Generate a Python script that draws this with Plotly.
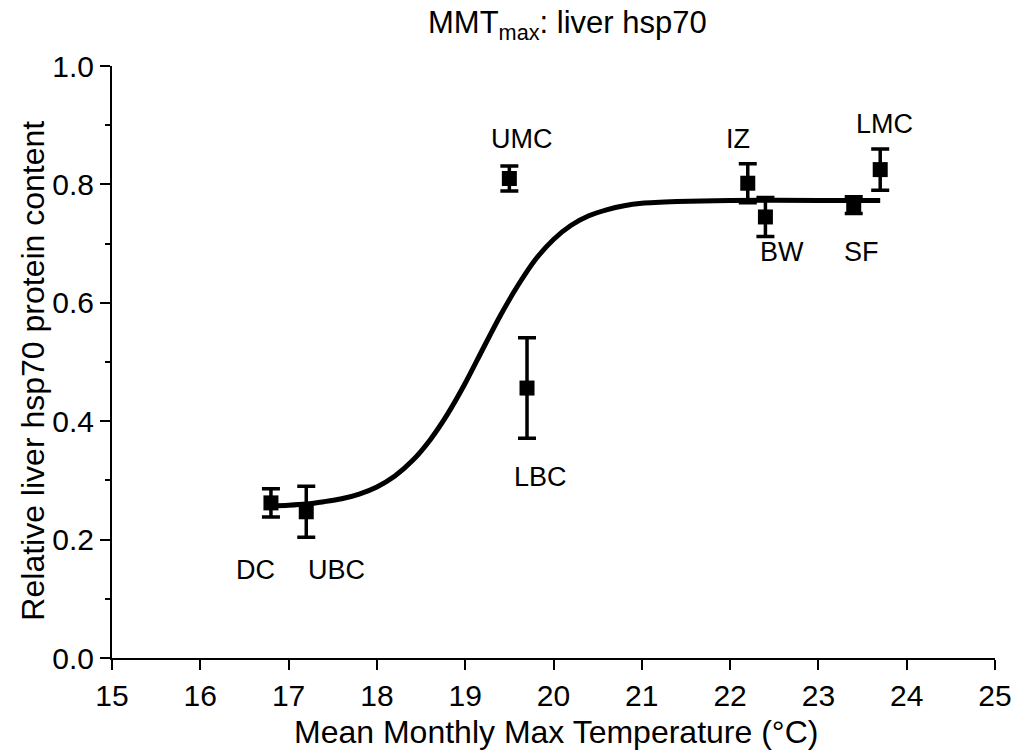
import plotly.graph_objects as go

# ---- data ----
sites = ["DC", "UBC", "UMC", "LBC", "IZ", "BW", "SF", "LMC"]
temps = [16.8, 17.2, 19.5, 19.7, 22.2, 22.4, 23.4, 23.7]
hsp70 = [0.262, 0.247, 0.810, 0.456, 0.802, 0.745, 0.765, 0.825]
sem = [0.024, 0.043, 0.021, 0.085, 0.033, 0.033, 0.014, 0.035]

curve_x = [16.8, 17.0, 17.2, 17.4, 17.6, 17.8, 18.0, 18.2, 18.4, 18.6, 18.8,
           19.0, 19.2, 19.4, 19.6, 19.8, 20.0, 20.2, 20.4, 20.6, 20.8, 21.0,
           21.4, 22.0, 23.0, 23.7]
curve_y = [0.257, 0.258, 0.260, 0.264, 0.269, 0.277, 0.289, 0.307, 0.333,
           0.368, 0.412, 0.464, 0.522, 0.579, 0.630, 0.674, 0.707, 0.731,
           0.747, 0.757, 0.764, 0.768, 0.771, 0.773, 0.773, 0.773]

x_ticks = list(range(15, 26))
y_ticks = [0.0, 0.2, 0.4, 0.6, 0.8, 1.0]

# ---- styling ----
label_shift = {
    "DC": (-15, -67), "UBC": (30, -58), "UMC": (13, 39), "LBC": (13, -89),
    "IZ": (-10, 44), "BW": (17, -35), "SF": (8, -47), "LMC": (4, 46),
}
FONT = "Liberation Sans, Arial, sans-serif"
L, R, T, B = 112, 22, 66, 97
W, H = 1024, 755
PW, PH = W - L - R, H - T - B


def px_to_paper(px, py):
    return (px - L) / PW, (H - B - py) / PH


fig = go.Figure()
fig.add_trace(go.Scatter(
    x=curve_x, y=curve_y, mode="lines", line=dict(color="black", width=5, shape="spline", smoothing=0.8),
    hoverinfo="skip", showlegend=False))
fig.add_trace(go.Scatter(
    x=temps, y=hsp70, mode="markers",
    marker=dict(symbol="square", size=15, color="black"),
    error_y=dict(type="data", array=sem, visible=True, color="black", thickness=3.5, width=9),
    showlegend=False))

for s, xv, yv in zip(sites, temps, hsp70):
    dx, dy = label_shift[s]
    fig.add_annotation(x=xv, y=yv, xref="x", yref="y", text=s, showarrow=False,
                       xshift=dx, yshift=dy, font=dict(family=FONT, size=27, color="black"))

tx, ty = px_to_paper(571, 25)
fig.add_annotation(text="MMT<sub>max</sub>: liver hsp70", xref="paper", yref="paper",
                   x=tx, y=ty, xanchor="center", yanchor="middle", showarrow=False,
                   font=dict(family=FONT, size=31, color="black"))

xx, xy = px_to_paper(560, 732)
fig.add_annotation(text="Mean Monthly Max Temperature (°C)", xref="paper", yref="paper",
                   x=xx, y=xy, xanchor="center", yanchor="middle", showarrow=False,
                   font=dict(family=FONT, size=32, color="black"))

yx, yy = px_to_paper(32, 371)
fig.add_annotation(text="Relative liver hsp70 protein content", xref="paper", yref="paper",
                   x=yx, y=yy, xanchor="center", yanchor="middle", showarrow=False, textangle=-90,
                   font=dict(family=FONT, size=32, color="black"))

fig.update_layout(
    width=W, height=H,
    margin=dict(l=L, r=R, t=T, b=B),
    plot_bgcolor="white", paper_bgcolor="white",
    font=dict(family=FONT, color="black"),
    xaxis=dict(range=[15, 25], tickvals=x_ticks, ticks="outside", ticklen=10, tickwidth=2,
               tickcolor="black", showline=True, linewidth=2, linecolor="black",
               showgrid=False, zeroline=False, tickfont=dict(size=30, color="black")),
    yaxis=dict(range=[0, 1], tickvals=y_ticks, tickformat=".1f", ticks="outside", ticklen=10,
               tickwidth=2, tickcolor="black", showline=True, linewidth=2, linecolor="black",
               showgrid=False, zeroline=False, tickfont=dict(size=30, color="black"),
               minor=dict(dtick=0.1, ticks="outside", ticklen=5, tickwidth=2, tickcolor="black",
                          showgrid=False)),
)

fig.write_html("out.html")
